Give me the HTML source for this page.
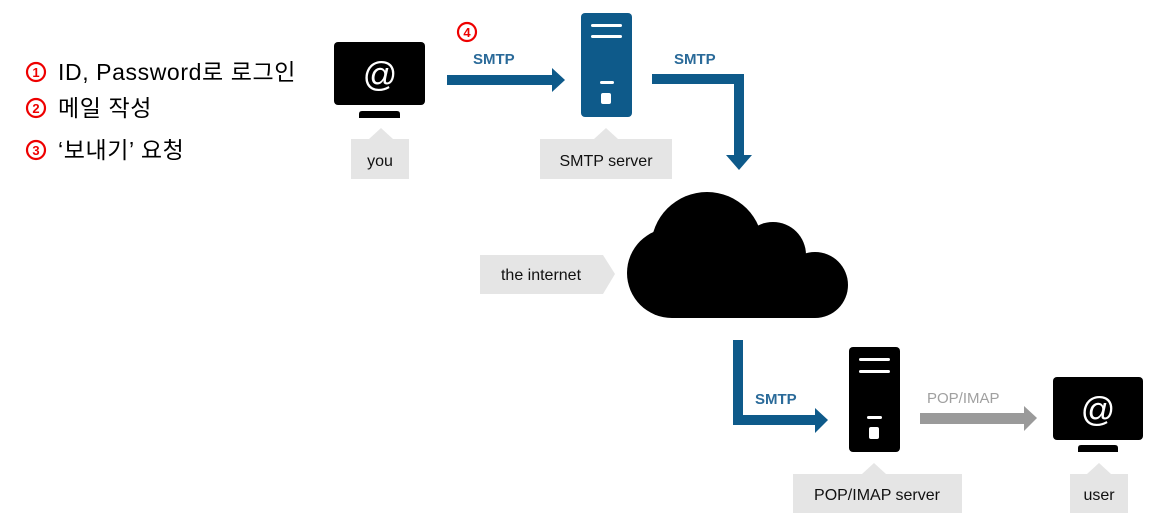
<!DOCTYPE html>
<html><head><meta charset="utf-8"><style>
body{margin:0;background:#fff;}
svg{display:block}
.k{font-family:"Liberation Sans","Noto Sans CJK KR",sans-serif;}
</style></head><body>
<svg width="1159" height="518" viewBox="0 0 1159 518" xmlns="http://www.w3.org/2000/svg">
<!-- left text -->
<g fill="none" stroke="#e00" stroke-width="2.2">
<circle cx="36" cy="72" r="9"/>
<circle cx="36" cy="108" r="9"/>
<circle cx="36" cy="150" r="9"/>
<circle cx="467" cy="32" r="9"/>
</g>
<g class="k" font-size="13" font-weight="bold" fill="#e00" text-anchor="middle">
<text x="36" y="77">1</text>
<text x="36" y="113">2</text>
<text x="36" y="155">3</text>
<text x="467" y="37">4</text>
</g>
<g class="k" font-size="23" fill="#000">
<text x="58" y="80" letter-spacing="0.6">ID, Password로 로그인</text>
<text x="58" y="116" letter-spacing="0.6">메일 작성</text>
<text x="58" y="158" letter-spacing="0.6">‘보내기’ 요청</text>
</g>
<!-- you monitor -->
<rect x="334" y="42" width="91" height="63" rx="4" fill="#000"/>
<path d="M359 118 V114 Q359 111 362 111 H397 Q400 111 400 114 V118Z" fill="#000"/>
<text x="380" y="86" text-anchor="middle" fill="#fff" font-family="Liberation Sans,sans-serif" font-size="34">@</text>
<path d="M351 139 H369 L381 128 L393 139 H409 V179 H351Z" fill="#e5e5e5"/>
<text x="380" y="166" text-anchor="middle" class="k" font-size="16" fill="#111">you</text>
<!-- arrow 1 -->
<text x="473" y="64" class="k" font-size="15" font-weight="bold" fill="#2a6a99">SMTP</text>
<rect x="447" y="75" width="108" height="10" fill="#0e5a8a"/>
<path d="M552 68 L565 80 L552 92Z" fill="#0e5a8a"/>
<!-- smtp server -->
<rect x="581" y="13" width="51" height="104" rx="4" fill="#0e5a8a"/>
<rect x="591" y="24" width="31" height="3" rx="1.5" fill="#fff"/>
<rect x="591" y="35" width="31" height="3" rx="1.5" fill="#fff"/>
<rect x="600" y="81" width="14" height="3" rx="1.5" fill="#fff"/>
<rect x="601" y="93" width="10" height="11" rx="2" fill="#fff"/>
<path d="M540 139 H594 L606 128 L618 139 H672 V179 H540Z" fill="#e5e5e5"/>
<text x="606" y="166" text-anchor="middle" class="k" font-size="16" fill="#111">SMTP server</text>
<!-- elbow 2 -->
<text x="674" y="64" class="k" font-size="15" font-weight="bold" fill="#2a6a99">SMTP</text>
<path d="M652 74 H744 V156 H734 V84 H652Z" fill="#0e5a8a"/>
<path d="M726 155 L752 155 L739 170Z" fill="#0e5a8a"/>
<!-- cloud -->
<g fill="#000">
<circle cx="672" cy="273" r="45"/>
<circle cx="707" cy="248" r="56"/>
<circle cx="773" cy="255" r="33"/>
<circle cx="815" cy="285" r="33"/>
<rect x="672" y="255" width="143" height="63"/>
</g>
<path d="M480 255 H603 L615 274 L603 294 H480Z" fill="#e5e5e5"/>
<text x="541" y="280" text-anchor="middle" class="k" font-size="16" fill="#111">the internet</text>
<!-- elbow 3 -->
<path d="M733 340 H743 V415 H816 V425 H733Z" fill="#0e5a8a"/>
<path d="M815 408 L828 420 L815 433Z" fill="#0e5a8a"/>
<text x="755" y="404" class="k" font-size="15" font-weight="bold" fill="#2a6a99">SMTP</text>
<!-- pop server -->
<rect x="849" y="347" width="51" height="105" rx="4" fill="#000"/>
<rect x="859" y="358" width="31" height="3" rx="1.5" fill="#fff"/>
<rect x="859" y="370" width="31" height="3" rx="1.5" fill="#fff"/>
<rect x="867" y="416" width="15" height="3" rx="1.5" fill="#fff"/>
<rect x="869" y="427" width="10" height="12" rx="2" fill="#fff"/>
<path d="M793 474 H862 L874 463 L886 474 H962 V513 H793Z" fill="#e5e5e5"/>
<text x="877" y="500" text-anchor="middle" class="k" font-size="16" fill="#111">POP/IMAP server</text>
<!-- gray arrow -->
<text x="927" y="403" class="k" font-size="15" fill="#a0a0a0">POP/IMAP</text>
<rect x="920" y="413" width="106" height="11" fill="#9a9a9a"/>
<path d="M1024 406 L1037 418 L1024 431Z" fill="#9a9a9a"/>
<!-- user monitor -->
<rect x="1053" y="377" width="90" height="63" rx="4" fill="#000"/>
<path d="M1078 452 V448 Q1078 445 1081 445 H1115 Q1118 445 1118 448 V452Z" fill="#000"/>
<text x="1098" y="421" text-anchor="middle" fill="#fff" font-family="Liberation Sans,sans-serif" font-size="34">@</text>
<path d="M1070 474 H1087 L1099 463 L1111 474 H1128 V513 H1070Z" fill="#e5e5e5"/>
<text x="1099" y="500" text-anchor="middle" class="k" font-size="16" fill="#111">user</text>
</svg>
</body></html>
